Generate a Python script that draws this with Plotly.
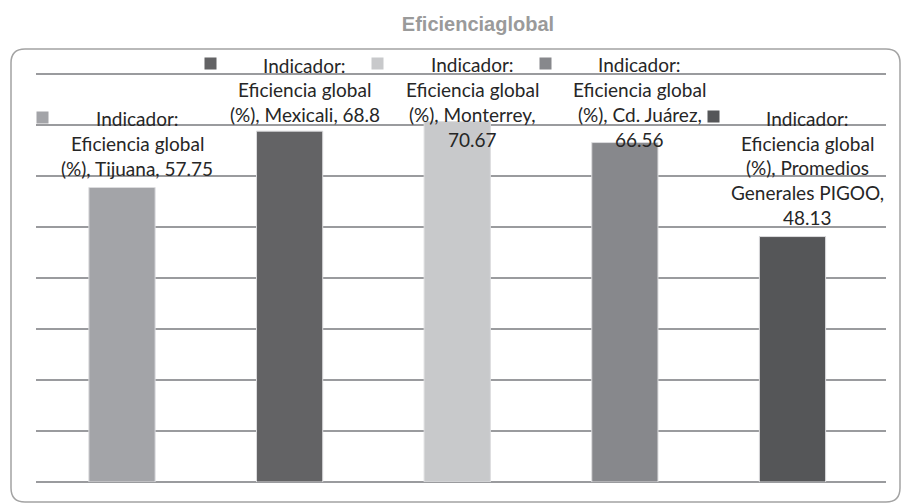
import textwrap
import plotly.graph_objects as go

# data
cities = ["Tijuana", "Mexicali", "Monterrey", "Cd. Juárez", "Promedios Generales PIGOO"]
values = [57.75, 68.8, 70.67, 66.56, 48.13]
colors = ["#a3a4a8", "#636365", "#c8c9cb", "#87888c", "#555658"]
indicator = "Indicador: Eficiencia global (%)"

W, H = 902, 503
L, R, T, B = 36, 16, 73, 21
plot_h = H - T - B
ymax = 80.2
px_per_unit = plot_h / ymax
line_h = 24.8

fig = go.Figure()
fig.add_trace(go.Bar(
    x=cities, y=values,
    marker=dict(color=colors, line=dict(color="#dcdcde", width=1)),
    width=0.395, showlegend=False, hoverinfo="x+y",
))

# data labels with legend keys (Excel style)
annotations = []
for city, val, col in zip(cities, values, colors):
    lines = textwrap.wrap(f"{indicator}, {city}, {val}", width=19)
    bar_top = T + plot_h - val * px_per_unit
    last_c = bar_top - 19
    first_c = last_c - (len(lines) - 1) * line_h
    if first_c < 65:
        first_c = 65
    for i, ln in enumerate(lines):
        c = first_c + i * line_h
        annotations.append(dict(
            x=city, y=val, xref="x", yref="y", text=ln, showarrow=False,
            xanchor="center", yanchor="middle", xshift=15, yshift=bar_top - c,
            font=dict(family="Lato, Carlito, sans-serif", size=19, color="#262626"),
        ))
    annotations.append(dict(
        x=city, y=val, xref="x", yref="y", text=" ", showarrow=False,
        xanchor="center", yanchor="middle", xshift=-79.5, yshift=bar_top - (first_c - 1.5),
        width=11, height=11, bgcolor=col, borderpad=0, font=dict(size=6),
    ))

# rounded frame around the chart area
def px2paper(x, y):
    return (x - L) / (W - L - R), (T + plot_h - y) / plot_h

x0, y0, x1, y1, r = 11, 49, 900, 502, 14
pts = [(x0 + r, y0), (x1 - r, y0), (x1, y0), (x1, y0 + r), (x1, y1 - r), (x1, y1), (x1 - r, y1),
       (x0 + r, y1), (x0, y1), (x0, y1 - r), (x0, y0 + r), (x0, y0), (x0 + r, y0)]
pp = [px2paper(*p) for p in pts]
fmt = lambda p: f"{p[0]:.5f},{p[1]:.5f}"
path = (f"M{fmt(pp[0])} L{fmt(pp[1])} Q{fmt(pp[2])} {fmt(pp[3])} L{fmt(pp[4])} "
        f"Q{fmt(pp[5])} {fmt(pp[6])} L{fmt(pp[7])} Q{fmt(pp[8])} {fmt(pp[9])} "
        f"L{fmt(pp[10])} Q{fmt(pp[11])} {fmt(pp[12])} Z")

fig.update_layout(
    width=W, height=H,
    margin=dict(l=L, r=R, t=T, b=B),
    paper_bgcolor="white", plot_bgcolor="white",
    title=dict(text="<b>Eficienciaglobal</b>", x=478 / W, xanchor="center",
               y=1 - 24 / H, yanchor="middle", xref="container",
               font=dict(family="Liberation Sans, Arial, sans-serif", size=20, color="#9a9a9a")),
    xaxis=dict(showticklabels=False, showgrid=False, zeroline=False, showline=False,
               ticks=""),
    yaxis=dict(range=[0, ymax], tick0=0, dtick=10, showticklabels=False, showgrid=True,
               gridcolor="#9a9b9e", gridwidth=2, zeroline=True, zerolinecolor="#9a9b9e",
               zerolinewidth=2, showline=False, ticks=""),
    annotations=annotations,
    shapes=[dict(type="path", path=path, xref="paper", yref="paper",
                 line=dict(color="#a3a3a3", width=1.5), layer="below")],
)

# page margin off so the figure sits at the window origin
fig.write_html("out.html", config={"displayModeBar": False},
               post_script="document.body.style.margin='0';")
